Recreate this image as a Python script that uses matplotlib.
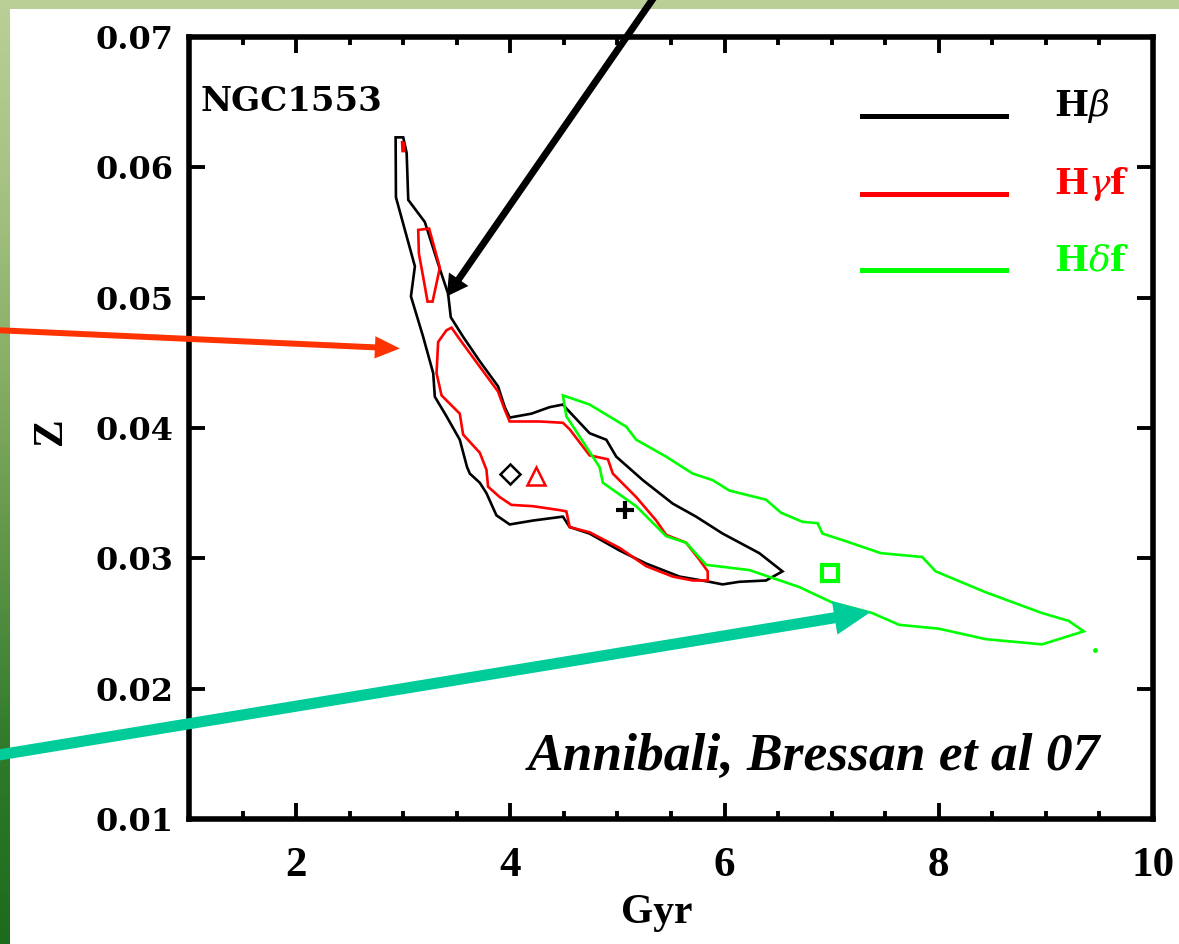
import numpy as np
import matplotlib
matplotlib.use('Agg')
import matplotlib.pyplot as plt
from matplotlib.colors import LinearSegmentedColormap
from matplotlib.lines import Line2D
from matplotlib.legend_handler import HandlerLine2D
from matplotlib.ticker import MultipleLocator

plt.rcParams['mathtext.fontset'] = 'dejavuserif'

# --- contour data (Gyr, Z) ---
hbeta_gyr = [2.929, 3.000, 3.032, 3.047, 3.202, 3.326, 3.419, 3.444, 3.559, 3.708,
             3.885, 3.948, 3.994, 4.197, 4.367, 4.491, 4.523, 4.740, 4.896, 4.989,
             5.237, 5.516, 5.734, 5.982, 6.324, 6.541, 6.387, 6.138, 5.982, 5.858,
             5.579, 5.268, 5.020, 4.740, 4.554, 4.491, 4.212, 3.994, 3.870, 3.777,
             3.715, 3.622, 3.596, 3.528, 3.404, 3.295, 3.280, 3.186, 3.072, 3.109, 2.932]
hbeta_z = [0.0623, 0.0623, 0.0611, 0.0575, 0.0558, 0.0526, 0.0503, 0.0485, 0.0470, 0.0452,
           0.0432, 0.0416, 0.0408, 0.0411, 0.0416, 0.0418, 0.0415, 0.0396, 0.0391, 0.0378,
           0.0360, 0.0342, 0.0332, 0.0319, 0.0304, 0.0290, 0.0283, 0.0282, 0.0280, 0.0282,
           0.0286, 0.0296, 0.0306, 0.0319, 0.0324, 0.0332, 0.0329, 0.0326, 0.0333, 0.0350,
           0.0358, 0.0365, 0.0370, 0.0391, 0.0409, 0.0424, 0.0442, 0.0470, 0.0501, 0.0524, 0.0577]

hgamma_gyr = [3.404, 3.451, 3.528, 3.715, 3.885, 3.948, 3.994, 4.274, 4.491, 4.554,
              4.740, 4.911, 4.957, 5.175, 5.362, 5.455, 5.641, 5.765, 5.843, 5.843,
              5.703, 5.516, 5.268, 5.020, 4.740, 4.554, 4.523, 4.460, 4.212, 4.010,
              3.901, 3.792, 3.777, 3.715, 3.559, 3.528, 3.358, 3.311, 3.326]
hgamma_z = [0.0475, 0.0477, 0.0468, 0.0447, 0.0428, 0.0414, 0.0405, 0.0405, 0.0404, 0.0399,
            0.0379, 0.0376, 0.0365, 0.0347, 0.0329, 0.0318, 0.0312, 0.0299, 0.0290, 0.0283,
            0.0283, 0.0286, 0.0294, 0.0308, 0.0320, 0.0324, 0.0336, 0.0337, 0.0340, 0.0341,
            0.0347, 0.0355, 0.0368, 0.0381, 0.0395, 0.0411, 0.0425, 0.0442, 0.0466]

hgamma2_gyr = [3.140, 3.242, 3.342, 3.274, 3.227, 3.186, 3.146]
hgamma2_z = [0.0552, 0.0553, 0.0523, 0.0497, 0.0497, 0.0516, 0.0534]

hgamma3_gyr = [2.983, 3.011, 3.016, 2.988]
hgamma3_z = [0.0620, 0.0619, 0.0612, 0.0612]

hdelta_gyr = [4.491, 4.740, 5.082, 5.175, 5.455, 5.703, 5.889, 6.045, 6.387, 6.527,
              6.728, 6.868, 6.914, 7.101, 7.459, 7.846, 7.971, 8.437, 8.965, 9.213,
              9.353, 8.965, 8.437, 8.002, 7.629, 7.380, 7.007, 6.697, 6.231, 5.828,
              5.641, 5.455, 5.175, 4.864, 4.833, 4.523]
hdelta_z = [0.0425, 0.0418, 0.0401, 0.0391, 0.0378, 0.0365, 0.0360, 0.0352, 0.0345, 0.0335,
            0.0328, 0.0327, 0.0319, 0.0314, 0.0304, 0.0301, 0.0290, 0.0274, 0.0258, 0.0252,
            0.0244, 0.0234, 0.0238, 0.0246, 0.0249, 0.0258, 0.0266, 0.0278, 0.0291, 0.0295,
            0.0312, 0.0317, 0.0340, 0.0358, 0.0370, 0.0409]
hdelta_dot = (9.456, 0.0230)

# best-fit points: Hbeta, Hgamma, combined, Hdelta
fit_gyr = [4.00, 4.24, 5.07, 6.98]
fit_z = [0.0365, 0.0363, 0.0337, 0.0289]

legend_labels = [r'H$\beta$', r'H$\gamma$f', r'H$\delta$f']
gyr_ticks = [2, 4, 6, 8, 10]
gyr_ticklabels = ['2', '4', '6', '8', '10']
z_ticks = [0.01, 0.02, 0.03, 0.04, 0.05, 0.06, 0.07]
z_ticklabels = ['0.01', '0.02', '0.03', '0.04', '0.05', '0.06', '0.07']

# arrow tips (data) and tails (figure fraction)
arrow_tips = [(3.407, 0.0501), (2.969, 0.0461), (7.368, 0.0259)]
arrow_tails = [(0.5590, 1.0106), (-0.005, 0.6504), (-0.005, 0.1994)]

GREEN = '#00ff00'
colors = ['black', 'red', GREEN]


class BaselineLine(HandlerLine2D):
    """legend line sitting on the text baseline"""
    def create_artists(self, legend, orig_handle, xdescent, ydescent,
                       width, height, fontsize, trans):
        arts = super().create_artists(legend, orig_handle, xdescent, ydescent,
                                      width, height, fontsize, trans)
        for a in arts:
            a.set_ydata(np.zeros(len(a.get_xdata())))
        return arts


fig = plt.figure(figsize=(11.79, 9.44), dpi=100)

# slide frame: light green top band, gradient strip on the left
bg = fig.add_axes([0, 0, 1, 1], zorder=-1)
frame_cmap = LinearSegmentedColormap.from_list(
    'frame', ['#b9cf96', '#a6c283', '#86ad65', '#5c9347', '#2f7a2a', '#1d6b1d'])
bg.imshow(np.linspace(0, 1, 256).reshape(-1, 1), extent=[0, 10 / 1179, 0, 1],
          aspect='auto', cmap=frame_cmap, origin='upper')
bg.axhspan(1 - 9 / 944, 1, color='#b9cf96', lw=0)
bg.set_xlim(0, 1)
bg.set_ylim(0, 1)
bg.axis('off')

ax = fig.add_axes([189 / 1179, 1 - 819 / 944, 964 / 1179, 782 / 944])

ax.fill(hbeta_gyr, hbeta_z, fill=False, edgecolor='black', lw=1.9)
ax.fill(hgamma_gyr, hgamma_z, fill=False, edgecolor='red', lw=1.9)
ax.fill(hgamma2_gyr, hgamma2_z, fill=False, edgecolor='red', lw=1.9)
ax.fill(hgamma3_gyr, hgamma3_z, color='red', lw=1)
ax.fill(hdelta_gyr, hdelta_z, fill=False, edgecolor=GREEN, lw=1.9)
ax.plot(*hdelta_dot, 'o', color=GREEN, ms=2.5)

ax.plot(fit_gyr[0], fit_z[0], marker='D', ms=10, mfc='none', mec='black', mew=1.8)
ax.plot(fit_gyr[1], fit_z[1], marker='^', ms=13, mfc='none', mec='red', mew=1.8)
ax.plot(fit_gyr[2], fit_z[2], marker='+', ms=13, mec='black', mew=3)
ax.plot(fit_gyr[3], fit_z[3], marker='s', ms=12, mfc='none', mec=GREEN, mew=3)

ax.set_xlim(1, 10)
ax.set_ylim(0.01, 0.07)
ax.set_xticks(gyr_ticks, labels=gyr_ticklabels, fontfamily='Liberation Serif',
              fontweight='bold', fontsize=31)
ax.set_yticks(z_ticks, labels=z_ticklabels, fontfamily='DejaVu Serif',
              fontweight='bold', fontsize=23)
ax.xaxis.set_minor_locator(MultipleLocator(0.5))
ax.tick_params(which='both', direction='in', top=True, right=True, width=2.8)
ax.tick_params(which='major', length=11.5)
ax.tick_params(which='minor', length=5.8)
ax.tick_params(axis='x', which='major', pad=20)
ax.tick_params(axis='y', which='major', pad=11)
for sp in ax.spines.values():
    sp.set_linewidth(4)

ax.set_xlabel('Gyr', fontfamily='Liberation Serif', fontweight='bold', fontsize=30)
ax.xaxis.set_label_coords(0.4855, -0.096)
ax.set_ylabel('Z', fontfamily='Liberation Serif', fontweight='bold', fontsize=30)
ax.yaxis.label.set_va('center')
ax.yaxis.set_label_coords(-0.143, 0.496)

ax.text(0.0121, 0.9057, 'NGC1553', transform=ax.transAxes, fontfamily='DejaVu Serif',
        fontweight='bold', fontsize=24.5, ha='left', va='baseline')
ax.text(0.945, 0.0627, 'Annibali, Bressan et al 07', transform=ax.transAxes,
        fontfamily='Liberation Serif', fontweight='bold', fontstyle='italic',
        fontsize=38.5, ha='right', va='baseline')

handles = [Line2D([], [], color=c, lw=3.6) for c in colors]
ax.legend(handles, legend_labels, loc='upper left', bbox_to_anchor=(0.698, 0.936),
          frameon=False, handlelength=4.0, handletextpad=1.33, labelspacing=1.11,
          borderpad=0, borderaxespad=0, labelcolor=colors,
          prop=dict(family='DejaVu Serif', weight='bold', size=26),
          handler_map={Line2D: BaselineLine()})

# pointer arrows
arrow_specs = [
    ('black', 'simple,head_length=1.5,head_width=1.7,tail_width=0.5'),
    ('#ff3300', 'simple,head_length=1.8,head_width=1.6,tail_width=0.43'),
    ('#00cc99', 'simple,head_length=2.66,head_width=2.45,tail_width=0.8'),
]
for (col, style), tip, tail in zip(arrow_specs, arrow_tips, arrow_tails):
    ax.annotate('', xy=tip, xycoords='data', xytext=tail, textcoords='figure fraction',
                arrowprops=dict(arrowstyle=style, color=col, lw=0, shrinkA=0, shrinkB=0,
                                mutation_scale=10),
                annotation_clip=False, zorder=10)

fig.savefig('out.png', dpi=100)
